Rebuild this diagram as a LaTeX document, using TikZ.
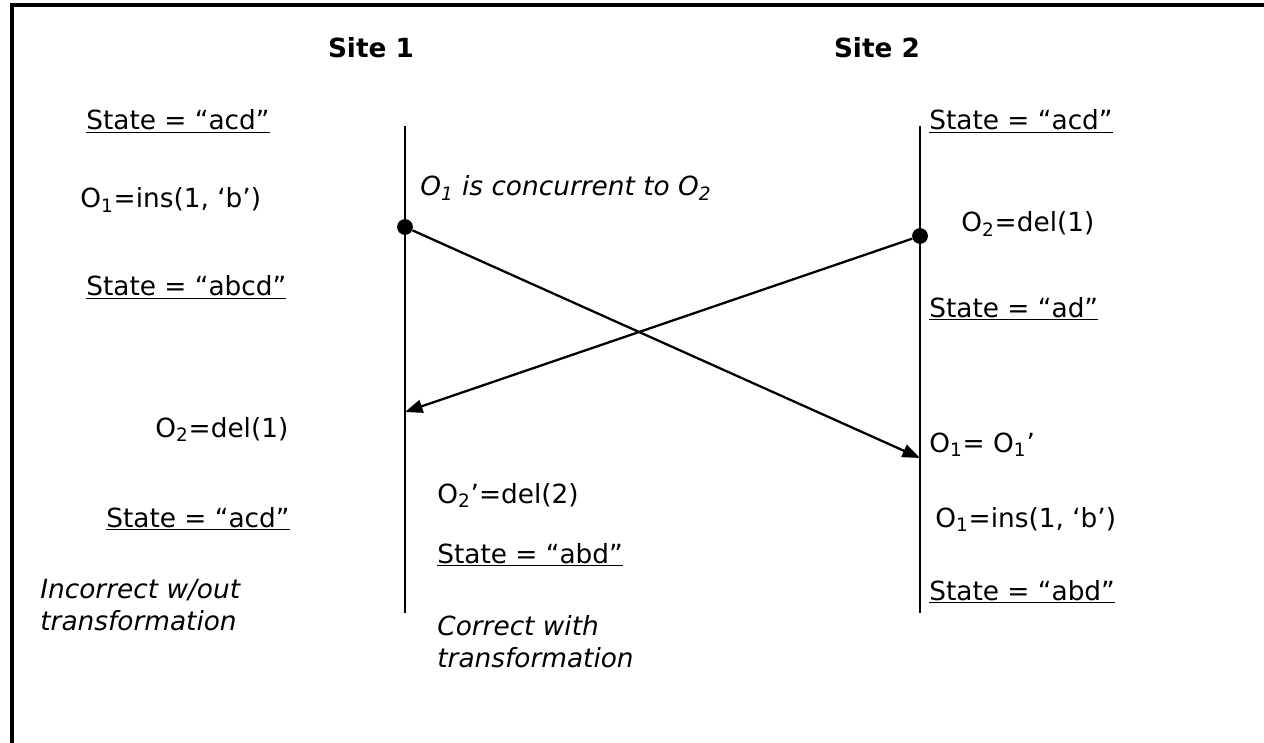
\documentclass[tikz,border=0pt]{standalone}
\usepackage{fontspec}
\setmainfont{DejaVu Sans}
\usetikzlibrary{positioning,arrows.meta}

\begin{document}
\begin{tikzpicture}[x=0.02cm,y=-0.02cm,
  lbl/.style={inner sep=0pt,anchor=base west,font=\fontsize{15}{18}\selectfont},
  note/.style={lbl,font=\fontsize{15}{18}\selectfont\itshape,align=left},
  head/.style={inner sep=0pt,anchor=base,font=\fontsize{15}{18}\selectfont\bfseries},
  lifeline/.style={line width=1.5pt},
  msg/.style={line width=1.3pt,-{Triangle[length=10pt,width=7.5pt]}},
  dot/.style={circle,fill,inner sep=0pt,minimum size=9pt}]
  \useasboundingbox (0,0) rectangle (1264,743);
  \draw[line width=1.8pt] (12,743) -- (12,5) -- (1264,5);

  \node[head] (site1) at (371,58) {Site 1};
  \node[head] (site2) at (877,58) {Site 2};

  \draw[lifeline] (405,126) coordinate (s1top) -- (405,613) coordinate (s1bot);
  \draw[lifeline] (920,126) coordinate (s2top) -- (920,613) coordinate (s2bot);

  \node[dot] (o1) at (405,227) {};
  \node[dot] (o2) at (920,236) {};
  \coordinate (o1in) at (920,458);
  \coordinate (o2in) at (405,412);
  \draw[msg] (o1) -- (o1in);
  \draw[msg] (o2) -- (o2in);

  \node[lbl] (l1) at (86,130) {\underline{State = “acd”}};
  \node[lbl] (l2) at (80,208) {O\textsubscript{1}=ins(1, ‘b’)};
  \node[lbl] (l3) at (86,296) {\underline{State = “abcd”}};
  \node[lbl] (l4) at (155,437) {O\textsubscript{2}=del(1)};
  \node[lbl] (l5) at (106,527) {\underline{State = “acd”}};
  \node[note] (l6) at (40,630) {Incorrect w/out\\transformation};

  \node[note] (conc) at (420,196) {O\textsubscript{1} is concurrent to O\textsubscript{2}};
  \node[lbl] (m1) at (437,503) {O\textsubscript{2}’=del(2)};
  \node[lbl] (m2) at (437,563) {\underline{State = “abd”}};
  \node[note] (m3) at (437,667) {Correct with\\transformation};

  \node[lbl] (r1) at (929,130) {\underline{State = “acd”}};
  \node[lbl] (r2) at (961,232) {O\textsubscript{2}=del(1)};
  \node[lbl] (r3) at (929,317) {\underline{State = “ad”}};
  \node[lbl] (r4) at (929,452) {O\textsubscript{1}= O\textsubscript{1}’};
  \node[lbl] (r5) at (935,527) {O\textsubscript{1}=ins(1, ‘b’)};
  \node[lbl] (r6) at (929,600) {\underline{State = “abd”}};
\end{tikzpicture}
\end{document}
